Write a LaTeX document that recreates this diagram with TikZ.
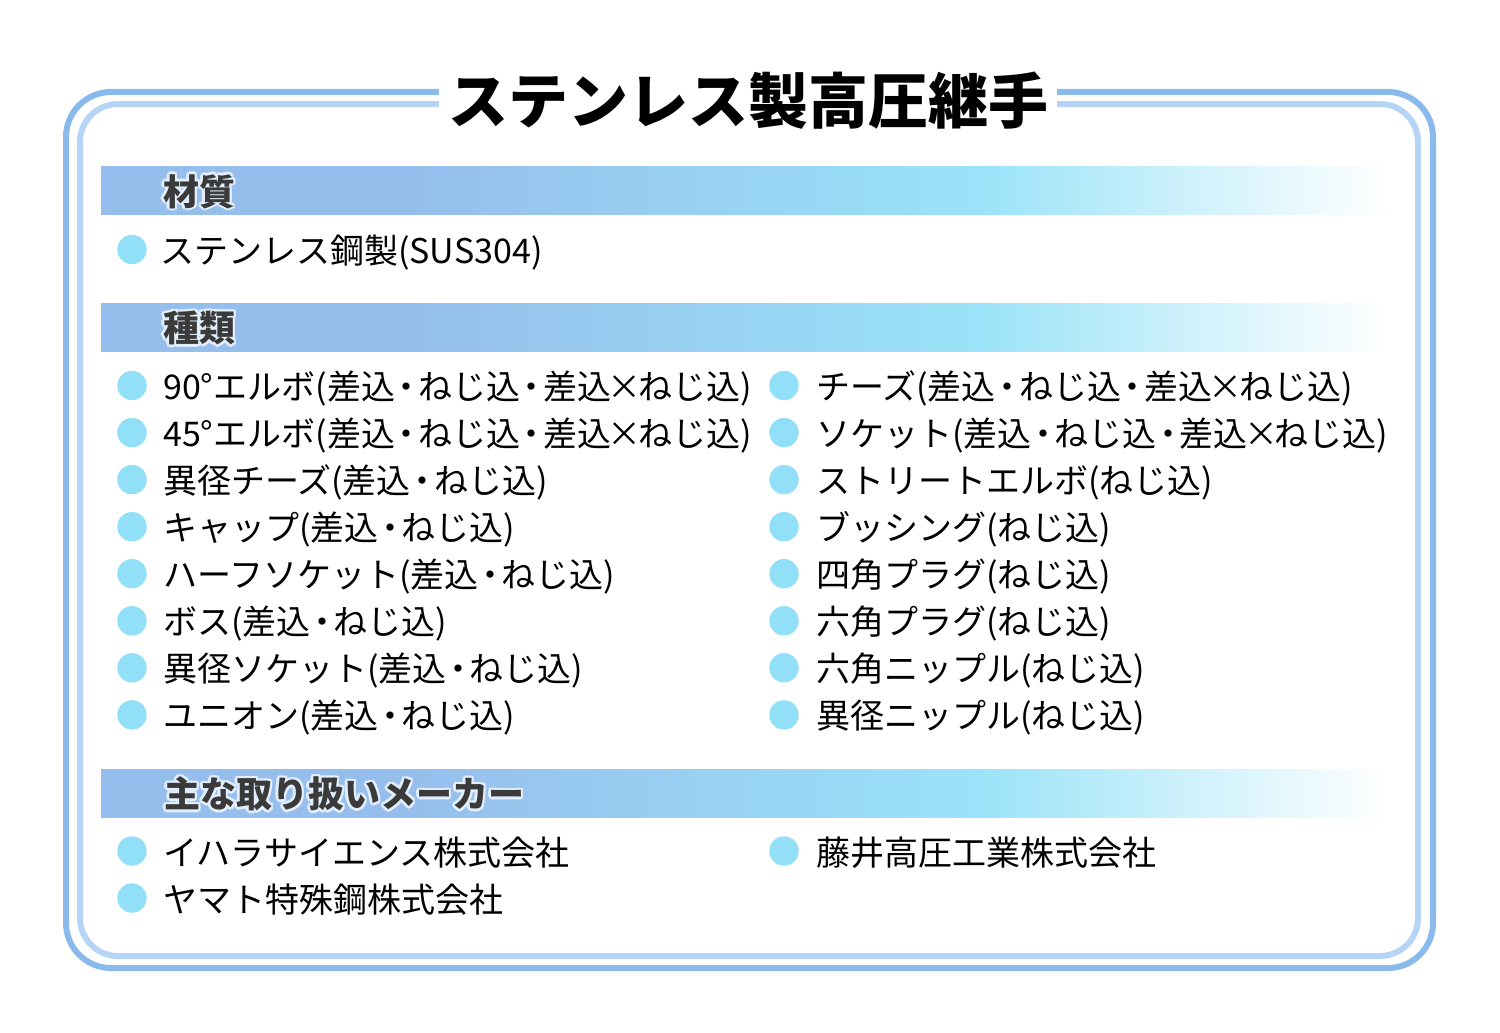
\documentclass[tikz,border=0pt]{standalone}
\usepackage{xcolor}
\usepackage{fontspec}
\usepackage{tikz}
\usetikzlibrary{shapes,positioning}
\newfontfamily\jpfont{Noto Sans CJK JP}

\definecolor{outerblue}{HTML}{8AB9EC}
\definecolor{innerblue}{HTML}{B6D4F6}
\definecolor{barblue}{HTML}{96BEEC}
\definecolor{barcyan}{HTML}{9AE3F8}
\definecolor{dotcyan}{HTML}{92E0F8}
\definecolor{headgray}{HTML}{3A3A3A}
\definecolor{halo}{HTML}{E2EEFB}

\pgfdeclarehorizontalshading{barshade}{100bp}{color(0bp)=(barblue); color(37bp)=(barblue); color(59bp)=(barcyan); color(75bp)=(white); color(100bp)=(white)}

\newcommand\hcopy[3]{\rlap{\kern#1\raisebox{#2}{\textcolor{halo}{#3}}}}
\newcommand\headhalo[1]{\hcopy{2.5pt}{0pt}{#1}\hcopy{-2.5pt}{0pt}{#1}\hcopy{0pt}{2.5pt}{#1}\hcopy{0pt}{-2.5pt}{#1}\hcopy{1.8pt}{1.8pt}{#1}\hcopy{1.8pt}{-1.8pt}{#1}\hcopy{-1.8pt}{1.8pt}{#1}\hcopy{-1.8pt}{-1.8pt}{#1}#1}
% narrow middle dot and times sign
\newcommand\nk{\kern-5.5pt・\kern-5.5pt}
\newcommand\xk{\kern-3.5pt×\kern-3.5pt}

\tikzset{
  dot/.style={circle, fill=dotcyan, inner sep=0pt, minimum size=29.4pt},
  item/.style={anchor=base west, inner sep=0pt, font=\jpfont\fontsize{34}{40}\selectfont},
  head/.style={anchor=base west, inner sep=0pt, text=headgray, font=\jpfont\bfseries\fontsize{36}{42}\selectfont},
  bar/.style={shading=barshade}
}

\begin{document}
\begin{tikzpicture}[x=1pt,y=-1pt]
        \useasboundingbox (0,0) rectangle (1500,1033);

        % frame
        \draw[outerblue, line width=6pt, rounded corners=45pt] (66,92) rectangle (1433,968);
        \draw[innerblue, line width=6pt, rounded corners=38pt] (80,104) rectangle (1418,956);
        \node[fill=white, anchor=base, inner xsep=9pt, inner ysep=4pt,
              font=\jpfont\bfseries\fontsize{60}{70}\selectfont] (title) at (748,124) {ステンレス製高圧継手};

        % section bars
        \shade[bar] (101,166) rectangle (1390,214);
        \shade[bar] (101,303) rectangle (1390,351.5);
        \shade[bar] (101,769) rectangle (1390,817.5);
        \node[head] (h1) at (163,205) {\headhalo{材質}};
        \node[head] (h2) at (163,341.7) {\headhalo{種類}};
        \node[head] (h3) at (164,807.7) {\headhalo{主な取り扱いメーカー}};

        % material
        \node[dot] (m1) at (132,249.5) {};
        \node[item] (mt1) at (160,263.5) {ステンレス鋼製(SUS304)};

        % types, left column
        \node[dot] (l1) at (132,385.5) {};
        \node[dot] (l2) at (132,432.6) {};
        \node[dot] (l3) at (132,479.6) {};
        \node[dot] (l4) at (132,526.7) {};
        \node[dot] (l5) at (132,573.7) {};
        \node[dot] (l6) at (132,620.8) {};
        \node[dot] (l7) at (132,667.8) {};
        \node[dot] (l8) at (132,714.9) {};
        \node[item] (lt1) at (163,399.5) {90°エルボ(差込\nk ねじ込\nk 差込\xk ねじ込)};
        \node[item] (lt2) at (163,446.6) {45°エルボ(差込\nk ねじ込\nk 差込\xk ねじ込)};
        \node[item] (lt3) at (163,493.6) {異径チーズ(差込\nk ねじ込)};
        \node[item] (lt4) at (163,540.7) {キャップ(差込\nk ねじ込)};
        \node[item] (lt5) at (163,587.7) {ハーフソケット(差込\nk ねじ込)};
        \node[item] (lt6) at (163,634.8) {ボス(差込\nk ねじ込)};
        \node[item] (lt7) at (163,681.8) {異径ソケット(差込\nk ねじ込)};
        \node[item] (lt8) at (163,728.9) {ユニオン(差込\nk ねじ込)};

        % types, right column
        \node[dot] (r1) at (784,385.5) {};
        \node[dot] (r2) at (784,432.6) {};
        \node[dot] (r3) at (784,479.6) {};
        \node[dot] (r4) at (784,526.7) {};
        \node[dot] (r5) at (784,573.7) {};
        \node[dot] (r6) at (784,620.8) {};
        \node[dot] (r7) at (784,667.8) {};
        \node[dot] (r8) at (784,714.9) {};
        \node[item] (rt1) at (816,399.5) {チーズ(差込\nk ねじ込\nk 差込\xk ねじ込)};
        \node[item] (rt2) at (816,446.6) {ソケット(差込\nk ねじ込\nk 差込\xk ねじ込)};
        \node[item] (rt3) at (816,493.6) {ストリートエルボ(ねじ込)};
        \node[item] (rt4) at (816,540.7) {ブッシング(ねじ込)};
        \node[item] (rt5) at (816,587.7) {四角プラグ(ねじ込)};
        \node[item] (rt6) at (816,634.8) {六角プラグ(ねじ込)};
        \node[item] (rt7) at (816,681.8) {六角ニップル(ねじ込)};
        \node[item] (rt8) at (816,728.9) {異径ニップル(ねじ込)};

        % makers
        \node[dot] (k1) at (132,851) {};
        \node[dot] (k2) at (132,898) {};
        \node[dot] (k3) at (784,851) {};
        \node[item] (kt1) at (163,865) {イハラサイエンス株式会社};
        \node[item] (kt2) at (163,912) {ヤマト特殊鋼株式会社};
        \node[item] (kt3) at (816,865) {藤井高圧工業株式会社};
    \end{tikzpicture}
\end{document}
